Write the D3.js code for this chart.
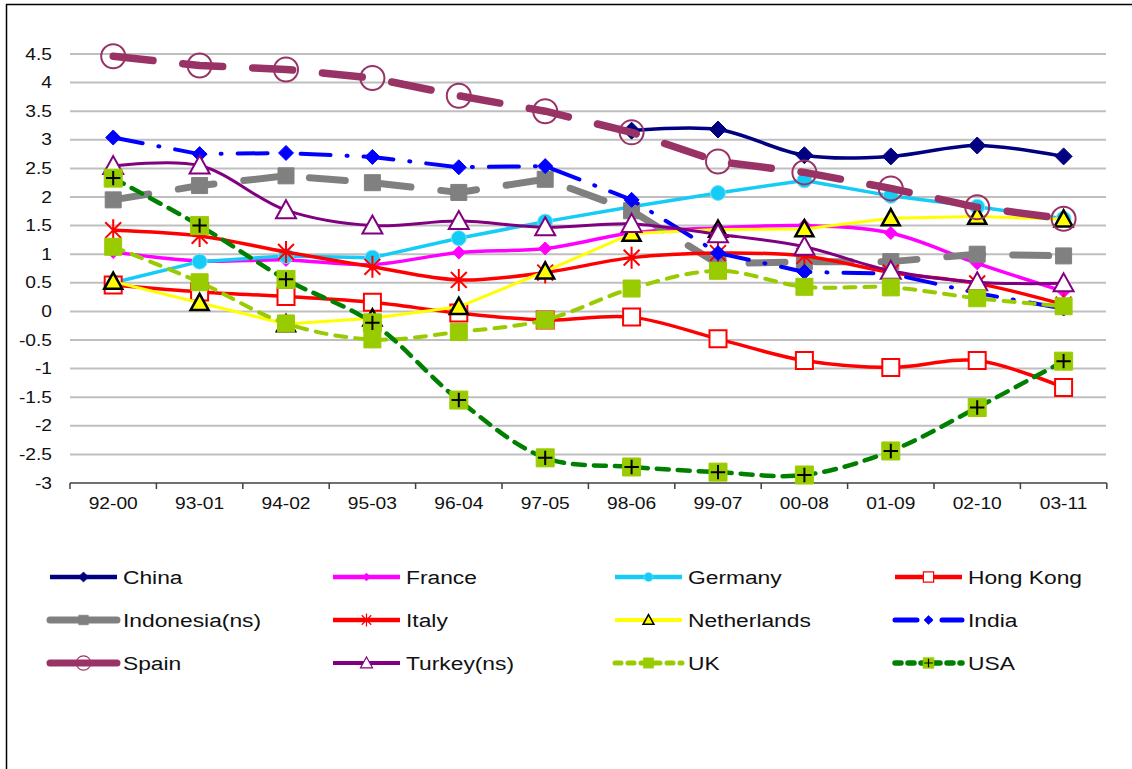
<!DOCTYPE html>
<html><head><meta charset="utf-8">
<script src="https://cdn.jsdelivr.net/npm/d3@7"></script>
<style>
html,body{margin:0;padding:0;background:#fff;}
svg{display:block;font-family:"Liberation Sans",Arial,sans-serif;}
</style></head>
<body><svg id="chart" width="1132" height="769"></svg>
<script>
const categories = ["92-00","93-01","94-02","95-03","96-04","97-05","98-06","99-07","00-08","01-09","02-10","03-11"];
const yTicks = [-3,-2.5,-2,-1.5,-1,-0.5,0,0.5,1,1.5,2,2.5,3,3.5,4,4.5];

const china       = [null,null,null,null,null,null,3.16,3.18,2.73,2.71,2.9,2.71];
const france      = [1.04,0.88,0.9,0.82,1.03,1.1,1.37,1.46,1.5,1.37,0.84,0.35];
const germany     = [0.5,0.87,0.97,0.94,1.28,1.57,1.83,2.07,2.29,2.02,1.83,1.62];
const hongKong    = [0.46,0.34,0.26,0.16,-0.03,-0.15,-0.1,-0.48,-0.86,-0.98,-0.86,-1.33];
const indonesia   = [1.95,2.2,2.37,2.25,2.08,2.31,1.76,0.83,0.87,0.87,1.0,0.97];
const italy       = [1.42,1.32,1.04,0.78,0.55,0.68,0.94,1.02,0.97,0.68,0.49,0.12];
const netherlands = [0.52,0.15,-0.22,-0.12,0.08,0.7,1.36,1.43,1.44,1.63,1.66,1.61];
const india       = [3.04,2.75,2.77,2.7,2.52,2.54,1.95,1.02,0.69,0.66,0.32,0.05];
const spain       = [4.46,4.3,4.23,4.08,3.77,3.5,3.13,2.62,2.43,2.15,1.82,1.62];
const turkey      = [2.54,2.55,1.77,1.5,1.58,1.47,1.53,1.35,1.13,0.71,0.51,0.49];
const uk          = [1.13,0.51,-0.21,-0.49,-0.36,-0.15,0.4,0.71,0.43,0.42,0.23,0.09];
const usa         = [2.33,1.5,0.56,-0.2,-1.55,-2.56,-2.72,-2.81,-2.86,-2.44,-1.68,-0.87];

const seriesNames = ["China","France","Germany","Hong Kong","Indonesia(ns)","Italy","Netherlands","India","Spain","Turkey(ns)","UK","USA"];
const seriesValues = [china,france,germany,hongKong,indonesia,italy,netherlands,india,spain,turkey,uk,usa];

const styles = {
  "China":        {color:"#000080", w:3.5, dash:null, smooth:true, marker:"diamond", ms:17, fill:"#000080", mstroke:"#000080"},
  "France":       {color:"#FF00FF", w:3.5, dash:null, smooth:true, marker:"diamond", ms:13, fill:"#FF00FF", mstroke:"#FF00FF"},
  "Germany":      {color:"#14CCF5", w:3.5, dash:null, smooth:false, marker:"circle", ms:15, fill:"#14CCF5", mstroke:"#7FE3F7"},
  "Hong Kong":    {color:"#FF0000", w:3.5, dash:null, smooth:true, marker:"square", ms:17, fill:"#FFFFFF", mstroke:"#FF0000", msw:2},
  "Indonesia(ns)":{color:"#808080", w:7, dash:"36,30", smooth:false, marker:"square", ms:16, fill:"#808080", mstroke:"#808080"},
  "Italy":        {color:"#FF0000", w:3.5, dash:null, smooth:true, marker:"star", ms:22, fill:"none", mstroke:"#FF0000", msw:2},
  "Netherlands":  {color:"#FFFF00", w:3, dash:null, smooth:false, marker:"triangle", ms:18, fill:"#FFFF00", mstroke:"#000000", msw:2.5},
  "India":        {color:"#0000FF", w:4, dash:"30,16,1,16", smooth:false, marker:"diamond", ms:15, fill:"#0000FF", mstroke:"#0000FF"},
  "Spain":        {color:"#993366", w:7.5, dash:"40,30", smooth:false, marker:"circle", ms:24, fill:"none", mstroke:"#993366", msw:2},
  "Turkey(ns)":   {color:"#800080", w:3, dash:null, smooth:true, marker:"triangle", ms:20, fill:"#FFFFFF", mstroke:"#800080", msw:2},
  "UK":           {color:"#99CC00", w:4, dash:"11,9", smooth:true, marker:"square", ms:17, fill:"#99CC00", mstroke:"#99CC00"},
  "USA":          {color:"#008000", w:4.5, dash:"12,9", smooth:true, marker:"plussq", ms:18, fill:"#99CC00", mstroke:"#99CC00", msw:1}
};

const svg = d3.select("#chart");
// frame
svg.append("line").attr("x1",6).attr("x2",1132).attr("y1",4.5).attr("y2",4.5).attr("stroke","#000").attr("stroke-width",1.5);
svg.append("line").attr("x1",6.5).attr("x2",6.5).attr("y1",4).attr("y2",769).attr("stroke","#000").attr("stroke-width",1.5);

const x = d3.scaleBand().domain(categories).range([70,1106.8]);
const y = d3.scaleLinear().domain([-3,4.5]).range([483,54]);
const cx = c => x(c) + x.bandwidth()/2;
const SX = 1.2; // horizontal stretch of text in the reference

// gridlines
svg.append("g").selectAll("line").data(yTicks.filter(d=>d>-3)).join("line")
  .attr("x1",70).attr("x2",1106).attr("y1",d=>y(d)).attr("y2",d=>y(d))
  .attr("stroke","#BFBFBF").attr("stroke-width",2);

// y labels
svg.append("g").selectAll("text").data(yTicks).join("text")
  .attr("transform",d=>`translate(52,${y(d)}) scale(${SX},1)`).attr("dy","0.35em").attr("text-anchor","end")
  .attr("font-size",16).attr("fill","#111").text(d=>d);

// x axis
const xa = svg.append("g").attr("transform","translate(0,483)");
xa.append("line").attr("x1",70).attr("x2",1106.8).attr("y1",0).attr("y2",0).attr("stroke","#404040").attr("stroke-width",1.5);
const bounds = categories.map(c=>x(c)).concat([x.range()[1]]);
xa.selectAll("line.tk").data(bounds).join("line").attr("class","tk")
  .attr("x1",d=>d).attr("x2",d=>d).attr("y1",0).attr("y2",6).attr("stroke","#404040").attr("stroke-width",1.5);
xa.selectAll("text").data(categories).join("text")
  .attr("transform",d=>`translate(${cx(d)},26) scale(${SX},1)`).attr("text-anchor","middle").attr("font-size",16).attr("fill","#111").text(d=>d);

function markerPath(type, s){
  const h = s/2;
  switch(type){
    case "diamond": return `M0,${-h}L${h},0L0,${h}L${-h},0Z`;
    case "square": case "plussq": return `M${-h},${-h}H${h}V${h}H${-h}Z`;
    case "triangle": return `M0,${-h}L${h},${h*0.8}L${-h},${h*0.8}Z`;
    case "circle": return `M${h},0A${h},${h} 0 1 1 ${-h},0A${h},${h} 0 1 1 ${h},0Z`;
    case "star": { const d = h*0.72; return `M${-d},${-d}L${d},${d}M${-d},${d}L${d},${-d}M0,${-h}V${h}`; }
  }
}
function drawMarker(g, name, px, py, scale){
  const st = styles[name];
  const s = st.ms*scale;
  g.append("path").attr("transform",`translate(${px},${py})`).attr("d",markerPath(st.marker,s))
    .attr("fill",st.marker==="star"?"none":st.fill).attr("stroke",st.mstroke).attr("stroke-width",(st.msw||1)*Math.max(scale,0.6))
    .attr("stroke-linejoin","miter");
  if(st.marker==="plussq"){
    const h = s*0.4;
    g.append("path").attr("transform",`translate(${px},${py})`).attr("d",`M${-h},0H${h}M0,${-h}V${h}`)
      .attr("stroke","#000").attr("stroke-width",2*Math.max(scale,0.6));
  }
}

const plot = svg.append("g");
seriesNames.forEach((name,i)=>{
  const st = styles[name];
  const pts = categories.map((c,j)=>({c,v:seriesValues[i][j]})).filter(d=>d.v!==null);
  const line = d3.line().x(d=>cx(d.c)).y(d=>y(d.v)).curve(st.smooth?d3.curveCatmullRom.alpha(0.5):d3.curveLinear);
  const g = plot.append("g");
  g.append("path").attr("d",line(pts)).attr("fill","none").attr("stroke",st.color).attr("stroke-width",st.w)
    .attr("stroke-dasharray",st.dash).attr("stroke-linecap",st.dash?"round":"butt").attr("stroke-linejoin","round");
  pts.forEach(p=>drawMarker(g,name,cx(p.c),y(p.v),1));
});

// legend
const legX = [50,333,615,895];
const legY = [577,620,663];
const leg = svg.append("g");
seriesNames.forEach((name,i)=>{
  const st = styles[name];
  const lx = legX[i%4], ly = legY[Math.floor(i/4)];
  const g = leg.append("g");
  g.append("line").attr("x1",lx).attr("x2",lx+67).attr("y1",ly).attr("y2",ly).attr("stroke",st.color)
    .attr("stroke-width",Math.min(st.w,6)+1).attr("stroke-dasharray",st.dash?(name==="India"?"22,12,1,12":(name==="UK"||name==="USA"?"6,7":"60,0")):null)
    .attr("stroke-linecap",st.dash?"round":"butt");
  drawMarker(g,name,lx+33.5,ly,0.6);
  g.append("text").attr("transform",`translate(${lx+73},${ly}) scale(${SX},1)`).attr("dy","0.35em").attr("font-size",19).attr("fill","#111").text(name);
});
</script></body></html>
